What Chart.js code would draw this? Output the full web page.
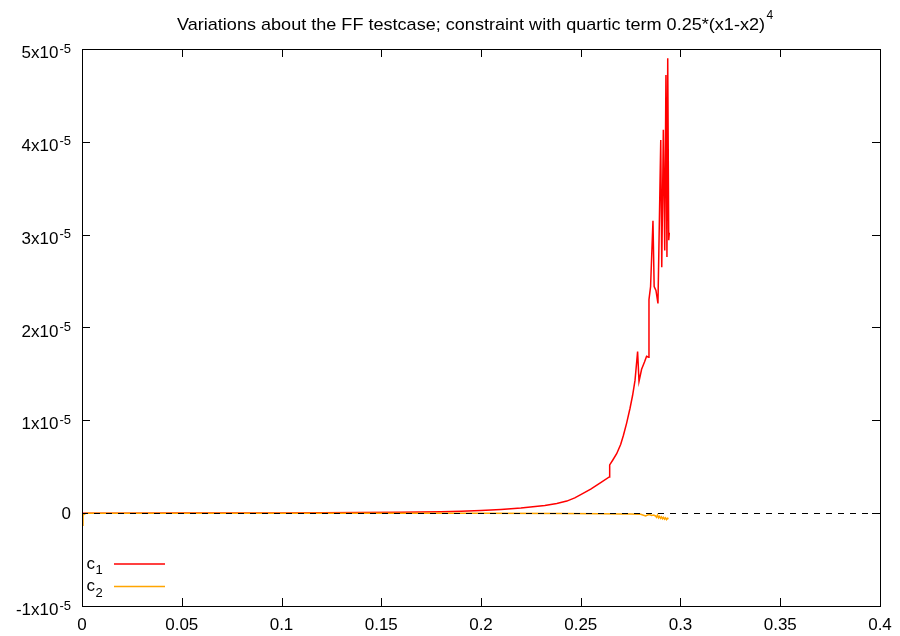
<!DOCTYPE html>
<html>
<head>
<meta charset="utf-8">
<script src="https://cdn.jsdelivr.net/npm/chart.js@4.4.0/dist/chart.umd.min.js"></script>
<style>
html, body { margin: 0; padding: 0; background: #fff; }
#wrap { width: 900px; height: 636px; }
</style>
</head>
<body>
<div id="wrap"><canvas id="plot" width="900" height="636"></canvas></div>
<script>
// title and key texts (gnuplot style, with super/subscripts)
var TitleText = 'Variations about the FF testcase; constraint with quartic term 0.25*(x1-x2)';
var TitleSup = '4';
var SeriesNames = ['c', 'c'];
var SeriesSubs = ['1', '2'];
var SeriesColors = ['#ff0000', '#ffa500'];

// c1
var C1X = [0, 0.02, 0.05, 0.08, 0.1, 0.12, 0.14, 0.16, 0.18, 0.19, 0.2, 0.21, 0.22, 0.226, 0.232,
           0.238, 0.243, 0.247, 0.25, 0.255, 0.26, 0.2643, 0.2645, 0.266, 0.268, 0.27, 0.2714, 0.273,
           0.2747, 0.276, 0.2772, 0.2785, 0.2792, 0.2805, 0.282, 0.283, 0.284, 0.2842, 0.285, 0.2862,
           0.2868, 0.2877, 0.2887, 0.2901, 0.2906, 0.2914, 0.2921, 0.2927, 0.2932, 0.2936, 0.2941, 0.2944];
var C1Y = [0, 0.0003e-5, 0.001e-5, 0.002e-5, 0.003e-5, 0.004e-5, 0.006e-5, 0.009e-5, 0.015e-5, 0.02e-5,
           0.028e-5, 0.04e-5, 0.055e-5, 0.068e-5, 0.083e-5, 0.105e-5, 0.13e-5, 0.165e-5, 0.2e-5, 0.26e-5,
           0.33e-5, 0.39e-5, 0.52e-5, 0.57e-5, 0.64e-5, 0.74e-5, 0.84e-5, 0.97e-5, 1.13e-5, 1.27e-5,
           1.43e-5, 1.74e-5, 1.42e-5, 1.55e-5, 1.63e-5, 1.69e-5, 1.68e-5, 2.30e-5, 2.44e-5, 3.15e-5,
           2.44e-5, 2.40e-5, 2.26e-5, 4.02e-5, 2.65e-5, 4.13e-5, 2.83e-5, 4.72e-5, 2.76e-5, 4.90e-5,
           2.94e-5, 3.02e-5];

// c2
var C2X = [0, 0.0005, 0.002, 0.05, 0.1, 0.15, 0.2, 0.24, 0.26, 0.27, 0.275, 0.28, 0.2825, 0.2835,
           0.2845, 0.2855, 0.2865, 0.2875, 0.288, 0.2885, 0.289, 0.2895, 0.29, 0.2905, 0.291, 0.2915,
           0.292, 0.2925, 0.293, 0.2935, 0.294];
var C2Y = [-0.13e-5, -0.02e-5, 0, 0, 0, -0.001e-5, -0.002e-5, -0.004e-5, -0.006e-5, -0.008e-5,
           -0.01e-5, -0.012e-5, -0.03e-5, -0.02e-5, -0.015e-5, -0.025e-5, -0.02e-5, -0.03e-5, -0.045e-5,
           -0.02e-5, -0.05e-5, -0.035e-5, -0.055e-5, -0.04e-5, -0.06e-5, -0.045e-5, -0.065e-5, -0.05e-5,
           -0.07e-5, -0.055e-5, -0.06e-5];

var XMin = 0, XMax = 0.4, XStep = 0.05;
var YMin = -1e-5, YMax = 5e-5, YStep = 1e-5;
var YExp = -5;

var FontName = '"Liberation Sans", Arial, Helvetica, sans-serif';
var NarrowName = '"Liberation Sans Narrow", "Liberation Sans", Arial, sans-serif';

function toPoints(xs, ys) {
    var pts = [];
    for (var i = 0; i < xs.length; i++) pts.push({ x: xs[i], y: ys[i] });
    return pts;
}

function tickValues(scale, step) {
    var vals = [];
    if (scale.ticks && scale.ticks.length) {
        for (var i = 0; i < scale.ticks.length; i++) vals.push(scale.ticks[i].value);
    } else {
        for (var v = scale.min; v <= scale.max + step / 2; v += step) vals.push(v);
    }
    return vals;
}

// frame, inward ticks on all four sides, zero axis, labels, key, title
var gnuplotLook = {
    id: 'gnuplotLook',
    beforeDatasetsDraw: function (chart) {
        var ctx = chart.ctx, a = chart.chartArea;
        var xs = chart.scales.x, ys = chart.scales.y;
        var t = 8;
        ctx.save();
        ctx.strokeStyle = '#000';
        ctx.lineWidth = 1;
        ctx.beginPath();
        tickValues(xs, XStep).forEach(function (v) {
            var px = Math.round(xs.getPixelForValue(v)) + 0.5;
            ctx.moveTo(px, a.bottom); ctx.lineTo(px, a.bottom - t);
            ctx.moveTo(px, a.top); ctx.lineTo(px, a.top + t);
        });
        tickValues(ys, YStep).forEach(function (v) {
            var py = Math.round(ys.getPixelForValue(v)) + 0.5;
            ctx.moveTo(a.left, py); ctx.lineTo(a.left + t, py);
            ctx.moveTo(a.right, py); ctx.lineTo(a.right - t, py);
        });
        ctx.stroke();
        ctx.restore();
    },
    afterDatasetsDraw: function (chart) {
        var ctx = chart.ctx, a = chart.chartArea;
        var xs = chart.scales.x, ys = chart.scales.y;
        ctx.save();

        // dashed zero axis
        var y0 = Math.round(ys.getPixelForValue(0)) + 0.5;
        ctx.strokeStyle = '#000';
        ctx.lineWidth = 1;
        ctx.setLineDash([6, 6]);
        ctx.beginPath();
        ctx.moveTo(a.left, y0); ctx.lineTo(a.right, y0);
        ctx.stroke();
        ctx.setLineDash([]);

        // border
        ctx.strokeRect(Math.round(a.left) + 0.5, Math.round(a.top) + 0.5,
                       Math.round(a.right - a.left), Math.round(a.bottom - a.top));

        ctx.fillStyle = '#000';
        ctx.textBaseline = 'alphabetic';

        // x tick labels
        ctx.font = '17px ' + FontName;
        ctx.textAlign = 'center';
        tickValues(xs, XStep).forEach(function (v) {
            var lbl = String(Number(v.toFixed(2)));
            ctx.fillText(lbl, xs.getPixelForValue(v), a.bottom + 24);
        });

        // y tick labels like 5x10^-5
        var rightEdge = a.left - 11;
        tickValues(ys, YStep).forEach(function (v) {
            var py = ys.getPixelForValue(v);
            var n = Math.round(v / YStep);
            ctx.textAlign = 'right';
            if (n === 0) {
                ctx.font = '17px ' + FontName;
                ctx.fillText('0', rightEdge, py + 6);
                return;
            }
            ctx.font = '13px ' + FontName;
            var sup = String(YExp);
            var sw = ctx.measureText(sup).width;
            ctx.fillText(sup, rightEdge, py + 3.5);
            ctx.font = '17px ' + FontName;
            ctx.fillText(n + 'x10', rightEdge - sw - 1, py + 9);
        });

        // key, bottom left inside the frame
        ctx.textAlign = 'left';
        for (var i = 0; i < SeriesNames.length; i++) {
            var ky = a.bottom - 42 + i * 22.5;
            ctx.font = '17px ' + FontName;
            ctx.fillStyle = '#000';
            ctx.fillText(SeriesNames[i], a.left + 4.5, ky + 4.5);
            var cw = ctx.measureText(SeriesNames[i]).width;
            ctx.font = '13px ' + FontName;
            ctx.fillText(SeriesSubs[i], a.left + 5 + cw, ky + 10);
            ctx.strokeStyle = SeriesColors[i];
            ctx.lineWidth = 1.5;
            ctx.beginPath();
            ctx.moveTo(a.left + 32, ky); ctx.lineTo(a.left + 83, ky);
            ctx.stroke();
        }

        // title with superscript, squeezed to the width in the picture
        ctx.fillStyle = '#000';
        ctx.font = '17px ' + NarrowName;
        var tw = ctx.measureText(TitleText).width;
        var wantW = 588, tx = 177, tb = 30;
        ctx.save();
        ctx.translate(tx, tb);
        ctx.scale(wantW / tw, 1);
        ctx.fillText(TitleText, 0, 0);
        ctx.restore();
        ctx.font = '12px ' + FontName;
        ctx.fillText(TitleSup, tx + wantW + 1.5, tb - 11);

        ctx.restore();
    }
};

var chart = new Chart(document.getElementById('plot'), {
    type: 'line',
    data: {
        datasets: [
            { label: 'c1', data: toPoints(C1X, C1Y), borderColor: SeriesColors[0], borderWidth: 1.5,
              pointRadius: 0, fill: false, tension: 0, order: 1 },
            { label: 'c2', data: toPoints(C2X, C2Y), borderColor: SeriesColors[1], borderWidth: 1.5,
              pointRadius: 0, fill: false, tension: 0, order: 0 }
        ]
    },
    options: {
        responsive: false,
        animation: false,
        devicePixelRatio: 1,
        layout: { padding: { left: 82, right: 20, top: 49, bottom: 30 } },
        plugins: { legend: { display: false }, title: { display: false }, tooltip: { enabled: false } },
        scales: {
            x: { type: 'linear', display: false, min: XMin, max: XMax, ticks: { stepSize: XStep } },
            y: { type: 'linear', display: false, min: YMin, max: YMax, ticks: { stepSize: YStep } }
        }
    },
    plugins: [gnuplotLook]
});
</script>
</body>
</html>
